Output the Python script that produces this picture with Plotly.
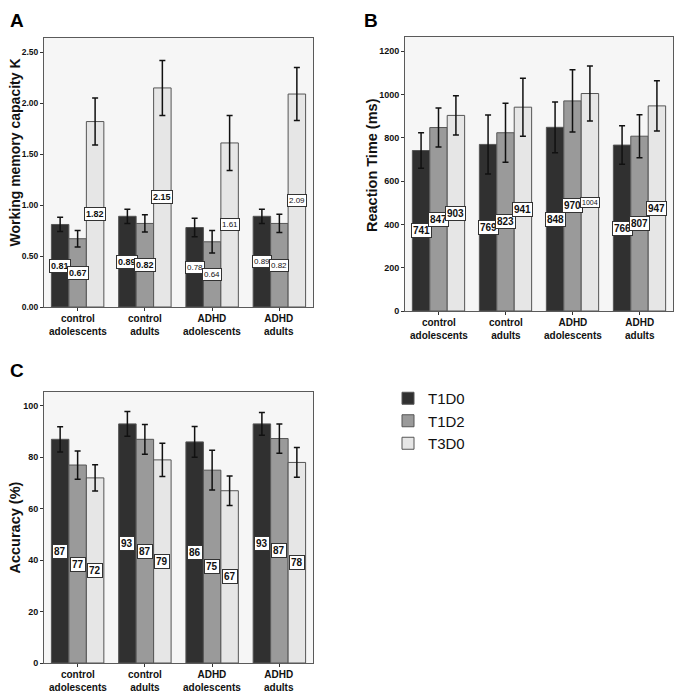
import plotly.graph_objects as go

# groups and conditions
groups = ["control<br>adolescents", "control<br>adults", "ADHD<br>adolescents", "ADHD<br>adults"]
conditions = ["T1D0", "T1D2", "T3D0"]

# A - working memory capacity K
wm_t1d0 = [0.81, 0.89, 0.78, 0.89]
wm_t1d2 = [0.67, 0.82, 0.64, 0.82]
wm_t3d0 = [1.82, 2.15, 1.61, 2.09]
wm_err_t1d0 = [0.07, 0.07, 0.09, 0.07]
wm_err_t1d2 = [0.08, 0.085, 0.11, 0.09]
wm_err_t3d0 = [0.23, 0.27, 0.27, 0.26]

# B - reaction time (ms)
rt_t1d0 = [741, 769, 848, 766]
rt_t1d2 = [847, 823, 970, 807]
rt_t3d0 = [903, 941, 1004, 947]
rt_err_t1d0 = [82, 136, 117, 89]
rt_err_t1d2 = [90, 136, 144, 99]
rt_err_t3d0 = [91, 134, 127, 116]

# C - accuracy (%)
acc_t1d0 = [87, 93, 86, 93]
acc_t1d2 = [77, 87, 75, 87.3]
acc_t3d0 = [72, 79, 67, 78]
acc_err_t1d0 = [4.9, 4.8, 6.0, 4.4]
acc_err_t1d2 = [5.5, 5.8, 7.7, 5.7]
acc_err_t3d0 = [5.1, 6.5, 5.7, 5.8]

# page body has an 8px margin, so the figure is shrunk and shifted to fit the window
OFF = 8
W, H = 683 - OFF, 692 - OFF


def fx(x):
    return (x - OFF) / W


def fy(y):
    return 1 - (y - OFF) / H


FONT = "Liberation Sans, Arial, sans-serif"
colors = ["#303030", "#9a9a9a", "#e6e6e6"]
BARGAP = 0.22

panels = [
    dict(name="A", title="Working memory capacity K", vals=[wm_t1d0, wm_t1d2, wm_t3d0],
         errs=[wm_err_t1d0, wm_err_t1d2, wm_err_t3d0], fmt="{:.2f}",
         px=(44, 313), py=(38, 307), yrange=[0, 2.64], dtick=0.5, tickformat=".2f",
         letter=(8, 8), ytitle=(14.5, 153), tsize=14, ticksize=8.5, lsize=9),
    dict(name="B", title="Reaction Time (ms)", vals=[rt_t1d0, rt_t1d2, rt_t3d0],
         errs=[rt_err_t1d0, rt_err_t1d2, rt_err_t3d0], fmt="{:.0f}",
         px=(405, 673), py=(37, 311), yrange=[0, 1265], dtick=200, tickformat="d",
         letter=(362, 8), ytitle=(372, 165), tsize=14.5, ticksize=9, lsize=10),
    dict(name="C", title="Accuracy (%)", vals=[acc_t1d0, acc_t1d2, acc_t3d0],
         errs=[acc_err_t1d0, acc_err_t1d2, acc_err_t3d0], fmt="{:.0f}",
         px=(44, 313), py=(392, 663), yrange=[0, 105.4], dtick=20, tickformat="d",
         letter=(8, 358), ytitle=(14.5, 528), tsize=14.5, ticksize=9, lsize=10),
]

# labels that SPSS drew in plain (non-bold) type
plain = {("A", 2), ("A", 3), ("B", "1004")}

fig = go.Figure()
annotations = []
layout = {}

for k, p in enumerate(panels):
    ax = "" if k == 0 else str(k + 1)
    x0, x1 = p["px"]
    y0, y1 = p["py"]
    layout["xaxis" + ax] = dict(
        domain=[fx(x0), fx(x1)], anchor="y" + ax, type="category", automargin=False,
        showline=True, mirror=True, linecolor="#5a5a5a", linewidth=1,
        ticks="outside", ticklen=3, tickcolor="#333", showgrid=False,
        showticklabels=False,
    )
    layout["yaxis" + ax] = dict(
        domain=[fy(y1), fy(y0)], anchor="x" + ax, range=p["yrange"],
        dtick=p["dtick"], tickformat=p["tickformat"], automargin=False,
        showline=True, mirror=True, linecolor="#5a5a5a", linewidth=1,
        ticks="outside", ticklen=3, tickcolor="#333", showgrid=False, zeroline=False,
        tickfont=dict(family=FONT, size=p["ticksize"], color="#111", weight="bold"),
    )
    bar_px = (x1 - x0) / len(groups) * (1 - BARGAP) / len(conditions)
    for j, cond in enumerate(conditions):
        fig.add_trace(go.Bar(
            x=groups, y=p["vals"][j], name=cond,
            showlegend=(k == 0), xaxis="x" + ax, yaxis="y" + ax,
            marker=dict(color=colors[j], line=dict(color="#555", width=1)),
            error_y=dict(type="data", array=p["errs"][j], color="#111",
                         thickness=1.5, width=3),
        ))
        for i, g in enumerate(groups):
            v = p["vals"][j][i]
            txt = p["fmt"].format(v)
            is_plain = (p["name"], i) in plain or (p["name"], txt) in plain
            size = p["lsize"] - (1 if is_plain else 0) - (2 if len(txt) > 3 and p["name"] == "B" else 0)
            annotations.append(dict(
                x=g, y=v / 2, xref="x" + ax, yref="y" + ax, text=txt,
                showarrow=False, xshift=(j - 1) * bar_px,
                bgcolor="white", bordercolor="#333", borderwidth=1, borderpad=1,
                font=dict(family=FONT, size=size, color="#111",
                          weight="normal" if is_plain else "bold"),
            ))
    # category labels under the axis
    for g in groups:
        annotations.append(dict(
            x=g, y=p["yrange"][0], xref="x" + ax, yref="y" + ax, text=g,
            showarrow=False, yanchor="top", yshift=-4,
            font=dict(family=FONT, size=10, color="#111", weight="bold"),
        ))
    # panel letter
    annotations.append(dict(
        x=fx(p["letter"][0]), y=fy(p["letter"][1]), xref="paper", yref="paper",
        xanchor="left", yanchor="top", text=p["name"], showarrow=False,
        font=dict(family=FONT, size=19, color="#000", weight="bold"),
    ))
    # y axis title
    annotations.append(dict(
        x=fx(p["ytitle"][0]), y=fy(p["ytitle"][1]), xref="paper", yref="paper",
        xanchor="center", yanchor="middle", text=p["title"], textangle=-90,
        showarrow=False, font=dict(family=FONT, size=p["tsize"], color="#111", weight="bold"),
    ))

fig.update_layout(
    **layout,
    annotations=annotations,
    barmode="group",
    bargap=BARGAP,
    bargroupgap=0,
    width=W,
    height=H,
    margin=dict(l=0, r=0, t=0, b=0, autoexpand=False),
    plot_bgcolor="#f6f6f6",
    paper_bgcolor="#ffffff",
    font=dict(family=FONT, size=12, color="#111"),
    legend=dict(x=fx(388), y=fy(382), xanchor="left", yanchor="top",
                font=dict(family=FONT, size=15, color="#111"),
                tracegroupgap=0, bgcolor="rgba(0,0,0,0)"),
)

fig.write_html("out.html")
